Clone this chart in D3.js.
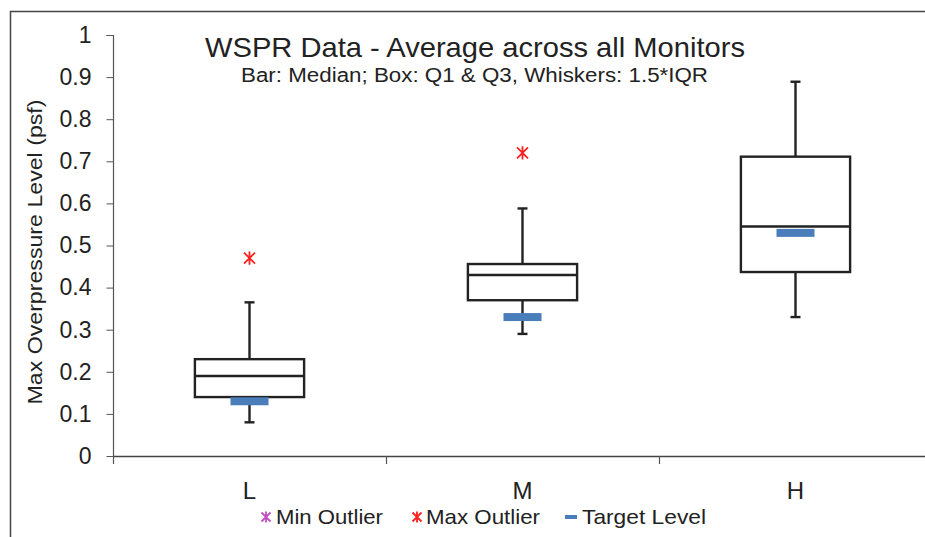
<!DOCTYPE html>
<html><head><meta charset="utf-8">
<script src="https://cdn.jsdelivr.net/npm/d3@7"></script>
<style>body{margin:0;background:#fff}svg{display:block}text{font-family:"Liberation Sans",Arial,sans-serif;fill:#222}</style>
</head><body>
<script>
const categories = ["L", "M", "H"];
const whiskerLow = [0.08, 0.29, 0.33];
const q1 = [0.14, 0.37, 0.437];
const median = [0.19, 0.43, 0.545];
const q3 = [0.23, 0.456, 0.711];
const whiskerHigh = [0.365, 0.588, 0.889];
const maxOutlier = [0.47, 0.72, null];
const minOutlier = [null, null, null];
const targetLevel = [0.13, 0.33, 0.53];
const yTicks = [0, 0.1, 0.2, 0.3, 0.4, 0.5, 0.6, 0.7, 0.8, 0.9, 1];

const W = 925, H = 537;
const svg = d3.select("body").append("svg").attr("width", W).attr("height", H);

// outer frame
svg.append("path").attr("d", "M10.5,540 V11.5 H930").attr("fill", "none").attr("stroke", "#444").attr("stroke-width", 1.5);

const x = d3.scaleBand().domain(categories).range([113, 932]).padding(0);
const y = d3.scaleLinear().domain([0, 1]).range([456, 35]);

// y axis
const yAx = svg.append("g").attr("transform", "translate(113.5,0)")
  .call(d3.axisLeft(y).tickValues(yTicks).tickSize(7).tickPadding(15).tickFormat(d => d3.format("")(+d.toFixed(1))));
yAx.select(".domain").attr("stroke", "#555").attr("stroke-width", 1.2).attr("d", "M-7," + (y(1)+0.5) + "H0V" + (y(0)+0.5));
yAx.selectAll(".tick line").attr("stroke", "#555");
yAx.selectAll(".tick text").attr("font-size", 23).style("fill", "#222");

// x axis line + boundary ticks
svg.append("line").attr("x1", 113).attr("x2", 932).attr("y1", y(0)+0.5).attr("y2", y(0)+0.5).attr("stroke", "#444").attr("stroke-width", 1.5);
const bounds = categories.map(c => x(c)).concat([x(categories[2]) + x.bandwidth()]);
svg.selectAll(".xt").data(bounds).join("line")
  .attr("x1", d => d + 0.5).attr("x2", d => d + 0.5).attr("y1", y(0)).attr("y2", y(0) + 8)
  .attr("stroke", "#555").attr("stroke-width", 1.2);
svg.selectAll(".xl").data(categories).join("text")
  .attr("x", d => x(d) + x.bandwidth() / 2).attr("y", 499).attr("text-anchor", "middle")
  .attr("font-size", 24).text(d => d);

// y axis title
svg.append("text").attr("transform", "translate(42,252) rotate(-90)").attr("text-anchor", "middle")
  .attr("font-size", 21).attr("textLength", 305).attr("lengthAdjust", "spacingAndGlyphs").text("Max Overpressure Level (psf)");

// title
svg.append("text").attr("x", 475).attr("y", 57).attr("text-anchor", "middle").attr("font-size", 28)
  .attr("textLength", 540).attr("lengthAdjust", "spacingAndGlyphs").text("WSPR Data - Average across all Monitors");
svg.append("text").attr("x", 474.5).attr("y", 82).attr("text-anchor", "middle").attr("font-size", 20)
  .attr("textLength", 467).attr("lengthAdjust", "spacingAndGlyphs").text("Bar: Median; Box: Q1 & Q3, Whiskers: 1.5*IQR");

const bw = x.bandwidth() * 0.4;
const cx = c => x(c) + x.bandwidth() / 2;
const g = svg.append("g");
categories.forEach((c, i) => {
  const xc = cx(c);
  const st = {stroke: "#222", sw: 2.4};
  g.append("line").attr("x1", xc).attr("x2", xc).attr("y1", y(q3[i])).attr("y2", y(whiskerHigh[i])).attr("stroke", st.stroke).attr("stroke-width", st.sw);
  g.append("line").attr("x1", xc).attr("x2", xc).attr("y1", y(q1[i])).attr("y2", y(whiskerLow[i])).attr("stroke", st.stroke).attr("stroke-width", st.sw);
  [whiskerHigh[i], whiskerLow[i]].forEach(v => {
    g.append("line").attr("x1", xc - 5).attr("x2", xc + 5).attr("y1", y(v)).attr("y2", y(v)).attr("stroke", st.stroke).attr("stroke-width", st.sw);
  });
  g.append("rect").attr("x", xc - bw / 2).attr("y", y(q3[i])).attr("width", bw).attr("height", y(q1[i]) - y(q3[i]))
    .attr("fill", "#fff").attr("stroke", st.stroke).attr("stroke-width", st.sw);
  g.append("line").attr("x1", xc - bw / 2).attr("x2", xc + bw / 2).attr("y1", y(median[i])).attr("y2", y(median[i])).attr("stroke", st.stroke).attr("stroke-width", st.sw);
});

// target level bars
svg.selectAll(".tgt").data(categories).join("rect")
  .attr("x", c => cx(c) - 19).attr("y", (c, i) => y(targetLevel[i]) - 4).attr("width", 38).attr("height", 8)
  .attr("fill", "#4a7ebb");

function star(sel, px, py, color, r) {
  const p = d3.path();
  p.moveTo(px - r, py - r); p.lineTo(px + r, py + r);
  p.moveTo(px + r, py - r); p.lineTo(px - r, py + r);
  p.moveTo(px, py - r * 1.2); p.lineTo(px, py + r * 1.2);
  sel.append("path").attr("d", p.toString()).attr("stroke", color).attr("stroke-width", 1.8).attr("fill", "none");
}
categories.forEach((c, i) => {
  if (maxOutlier[i] != null) star(svg, cx(c), y(maxOutlier[i]), "#ff2020", 5.5);
  if (minOutlier[i] != null) star(svg, cx(c), y(minOutlier[i]), "#c040c0", 5.5);
});

// legend
const lg = svg.append("g");
star(lg, 266, 517, "#c050c0", 4.5);
lg.append("text").attr("x", 276).attr("y", 524).attr("font-size", 21).attr("textLength", 107).attr("lengthAdjust", "spacingAndGlyphs").text("Min Outlier");
star(lg, 417, 517, "#ff2020", 4.5);
lg.append("text").attr("x", 426).attr("y", 524).attr("font-size", 21).attr("textLength", 114).attr("lengthAdjust", "spacingAndGlyphs").text("Max Outlier");
lg.append("rect").attr("x", 565).attr("y", 515).attr("width", 12).attr("height", 4).attr("fill", "#4a7ebb");
lg.append("text").attr("x", 582).attr("y", 524).attr("font-size", 21).attr("textLength", 124).attr("lengthAdjust", "spacingAndGlyphs").text("Target Level");
</script>
</body></html>
